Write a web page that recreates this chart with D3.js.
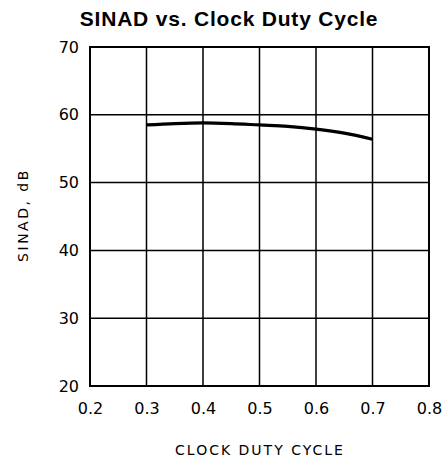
<!DOCTYPE html>
<html>
<head>
<meta charset="utf-8">
<script src="https://cdn.jsdelivr.net/npm/d3@7"></script>
<style>
  body { margin: 0; background: #fff; }
  svg text { fill: #000; }
</style>
</head>
<body>
<svg id="chart"></svg>
<script>
const dutyCycle = [0.3, 0.35, 0.4, 0.45, 0.5, 0.55, 0.6, 0.65, 0.7];
const sinad = [58.5, 58.7, 58.8, 58.7, 58.5, 58.3, 57.9, 57.3, 56.4];
const xTicks = [0.2, 0.3, 0.4, 0.5, 0.6, 0.7, 0.8];
const yTicks = [20, 30, 40, 50, 60, 70];

const W = 447, H = 462;
const margin = { top: 47, right: 18, bottom: 76, left: 90 };
const width = W - margin.left - margin.right;
const height = H - margin.top - margin.bottom;

const svg = d3.select("#chart").attr("width", W).attr("height", H);

svg.append("text")
  .attr("x", 229).attr("y", 26)
  .attr("text-anchor", "middle")
  .style("font-family", "Liberation Sans, Arial, sans-serif")
  .style("font-weight", "bold")
  .style("font-size", "21px")
  .style("letter-spacing", "0.8px")
  .text("SINAD vs. Clock Duty Cycle");

const g = svg.append("g").attr("transform", `translate(${margin.left},${margin.top})`);

const x = d3.scaleLinear().domain([0.2, 0.8]).range([0, width]);
const y = d3.scaleLinear().domain([20, 70]).range([height, 0]);

// Grid
g.selectAll(".vgrid").data(xTicks).enter().append("line")
  .attr("x1", d => x(d)).attr("x2", d => x(d))
  .attr("y1", 0).attr("y2", height)
  .attr("stroke", "#000").attr("stroke-width", 1.5);
g.selectAll(".hgrid").data(yTicks).enter().append("line")
  .attr("x1", 0).attr("x2", width)
  .attr("y1", d => y(d)).attr("y2", d => y(d))
  .attr("stroke", "#000").attr("stroke-width", 1.5);

g.append("rect").attr("width", width).attr("height", height)
  .attr("fill", "none").attr("stroke", "#000").attr("stroke-width", 2);

// Axes (labels only)
const xAxis = g.append("g").attr("transform", `translate(0,${height})`)
  .call(d3.axisBottom(x).tickValues(xTicks).tickSize(0).tickPadding(17).tickFormat(d3.format(".1f")));
const yAxis = g.append("g")
  .call(d3.axisLeft(y).tickValues(yTicks).tickSize(0).tickPadding(11));
[xAxis, yAxis].forEach(a => {
  a.select(".domain").remove();
  a.selectAll("text")
    .style("font-family", "DejaVu Sans, sans-serif")
    .style("font-size", "16px");
});

// Curve
g.append("path")
  .datum(dutyCycle.map((d, i) => [d, sinad[i]]))
  .attr("fill", "none").attr("stroke", "#000").attr("stroke-width", 3.2)
  .attr("d", d3.line().x(d => x(d[0])).y(d => y(d[1])).curve(d3.curveMonotoneX));

svg.append("text")
  .attr("transform", `translate(28,215) rotate(-90)`)
  .attr("text-anchor", "middle")
  .style("font-family", "DejaVu Sans, sans-serif")
  .style("font-size", "14px")
  .style("letter-spacing", "2.5px")
  .text("SINAD, dB");

svg.append("text")
  .attr("x", 260).attr("y", 455)
  .attr("text-anchor", "middle")
  .style("font-family", "DejaVu Sans, sans-serif")
  .style("font-size", "14px")
  .style("letter-spacing", "2px")
  .text("CLOCK DUTY CYCLE");
</script>
</body>
</html>
